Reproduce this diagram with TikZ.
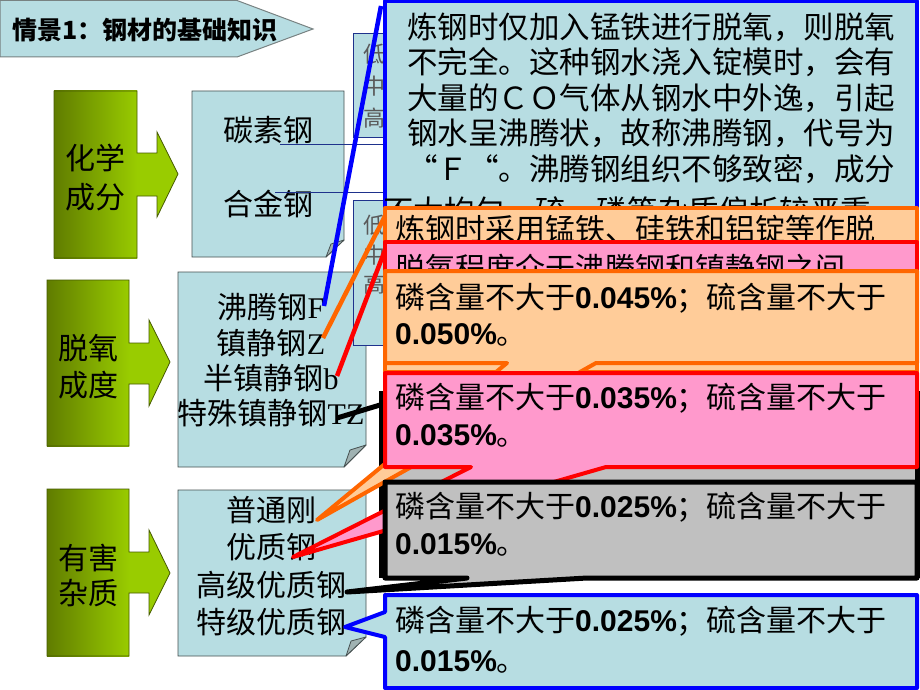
\documentclass[tikz,border=0pt]{standalone}
\usepackage{fontspec}
\setmainfont{Noto Sans CJK SC}
\newfontfamily\lser{Liberation Serif}
\newfontfamily\lsans{Liberation Sans}
\definecolor{lb}{RGB}{183,221,226}
\definecolor{peach}{RGB}{255,204,153}
\definecolor{pinkc}{RGB}{255,153,204}
\definecolor{grayc}{RGB}{192,192,192}
\definecolor{orangec}{RGB}{255,102,0}
\definecolor{olivedark}{RGB}{96,124,0}
\definecolor{limec}{RGB}{153,204,0}
\definecolor{olivebd}{RGB}{70,90,0}
\definecolor{boxline}{RGB}{70,80,80}
\definecolor{foldc}{RGB}{160,178,178}
\definecolor{navyc}{RGB}{30,50,140}
\definecolor{titlebd}{RGB}{120,130,130}
\newcommand{\nb}[1]{{\lsans\bfseries #1}}
\begin{document}
\begin{tikzpicture}[x=1pt,y=-1pt,
  ctxt/.style={inner sep=0pt, anchor=base west, font=\fontsize{30}{36}\selectfont},
  c1txt/.style={inner sep=0pt, anchor=base west, font=\fontsize{30.5}{36}\selectfont},
  btxt/.style={inner sep=0pt, anchor=base, font=\fontsize{30}{36}\selectfont},
  smtxt/.style={inner sep=0pt, anchor=base, text=black!65, font=\fontsize{22}{26}\selectfont},
  lbbox/.style={fill=lb, draw=boxline, line width=0.8pt},
  foldst/.style={fill=foldc, draw=boxline, line width=0.8pt, line join=round},
  greenbody/.style={left color=olivedark, right color=limec},
  greenbd/.style={draw=olivebd, line width=0.8pt},
  callout/.style={line width=4pt, line join=round},
  pointer/.style={line width=4.5pt, line cap=butt}
]
\useasboundingbox (0,0) rectangle (920,690);
\fill[white] (0,0) rectangle (920,690);

% title
\filldraw[fill=lb, draw=titlebd, line width=1pt] (0,0.5) -- (237,0.5) -- (313,29) -- (237,57) -- (0,57) -- cycle;
\node (title) [inner sep=0pt, anchor=base west, font=\fontsize{25}{30}\selectfont\bfseries] at (12,39.5) {情景1：钢材的基础知识};

% green arrows
\shade[greenbody] (54,91) rectangle (137,258);
\fill[limec] (137,153) -- (157,153) -- (157,132) -- (178,174) -- (157,217) -- (157,196) -- (137,196) -- cycle;
\draw[greenbd] (54,91) -- (137,91) -- (137,153) -- (157,153) -- (157,132) -- (178,174) -- (157,217) -- (157,196) -- (137,196) -- (137,258) -- (54,258) -- cycle;
\node (g1a) [btxt] at (95,169) {化学};
\node (g1b) [btxt] at (95,208) {成分};

\shade[greenbody] (47,280) rectangle (129,446);
\fill[limec] (129,343) -- (149,343) -- (149,320) -- (170,362) -- (149,406) -- (149,384) -- (129,384) -- cycle;
\draw[greenbd] (47,280) -- (129,280) -- (129,343) -- (149,343) -- (149,320) -- (170,362) -- (149,406) -- (149,384) -- (129,384) -- (129,446) -- (47,446) -- cycle;
\node (g2a) [btxt] at (88,359) {脱氧};
\node (g2b) [btxt] at (88,396) {成度};

\shade[greenbody] (47,489) rectangle (129,656);
\fill[limec] (129,552) -- (149,552) -- (149,530) -- (170,573) -- (149,615) -- (149,593) -- (129,593) -- cycle;
\draw[greenbd] (47,489) -- (129,489) -- (129,552) -- (149,552) -- (149,530) -- (170,573) -- (149,615) -- (149,593) -- (129,593) -- (129,656) -- (47,656) -- cycle;
\node (g3a) [btxt] at (88,569) {有害};
\node (g3b) [btxt] at (88,604) {杂质};

% light blue boxes with folded corner
\filldraw[lbbox] (192,91) -- (344,91) -- (344,240) -- (326,257) -- (192,257) -- cycle;
\filldraw[foldst] (326,257) -- (331,244) -- (344,240) -- cycle;
\node (tan) [btxt] at (268,142) {碳素钢};
\node (hej) [btxt] at (268,215) {合金钢};

\filldraw[lbbox] (178,272) -- (366,272) -- (366,445) -- (344,467) -- (178,467) -- cycle;
\filldraw[foldst] (344,467) -- (350,450) -- (366,445) -- cycle;
\node (ft) [btxt] at (271,318) {沸腾钢{\lser F}};
\node (zj) [btxt] at (271,354) {镇静钢{\lser Z}};
\node (bz) [btxt] at (271,389) {半镇静钢{\lser b}};
\node (tz) [btxt] at (271,424) {特殊镇静钢{\lser TZ}};

\filldraw[lbbox] (178,490) -- (366,490) -- (366,637) -- (346,656) -- (178,656) -- cycle;
\filldraw[foldst] (346,656) -- (351,641) -- (366,637) -- cycle;
\node (pt) [btxt] at (271,521) {普通刚};
\node (yz) [btxt] at (271,558) {优质钢};
\node (gj) [btxt] at (271,596) {高级优质钢};
\node (tj) [btxt] at (271,633) {特级优质钢};

% hidden small boxes
\filldraw[fill=lb, draw=navyc, line width=0.8pt] (353,33) rectangle (395,137);
\node (a1) [smtxt] at (374,63) {低};
\node (a2) [smtxt] at (374,95) {中};
\node (a3) [smtxt] at (374,126) {高};
\filldraw[fill=lb, draw=navyc, line width=0.8pt] (353,200) rectangle (395,345);
\node (b1) [smtxt] at (374,233) {低};
\node (b2) [smtxt] at (374,263) {中};
\node (b3) [smtxt] at (374,292) {高};
\draw[navyc, line width=0.9pt] (280,144) -- (390,144);
\draw[navyc, line width=0.9pt] (275,192) -- (390,192);

% tips
\coordinate (tipF) at (324,306);
\coordinate (tipZ) at (323,338);
\coordinate (tipB) at (337,376);
\coordinate (tipTZ) at (337,418);
\coordinate (tipPT) at (317,520);
\coordinate (tipYZ) at (293,557);
\coordinate (tipGJ) at (347,592);
\coordinate (tipTJ) at (345,627);

% C1 blue
\filldraw[callout, fill=lb, draw=blue] (385,1) rectangle (917,250);
\draw[pointer, blue] (381,6) -- (tipF);
\node (c1l1) [c1txt] at (407,38.5) {炼钢时仅加入锰铁进行脱氧，则脱氧};
\node (c1l2) [c1txt] at (407,73.5) {不完全。这种钢水浇入锭模时，会有};
\node (c1l3) [c1txt] at (407,109.5) {大量的ＣＯ气体从钢水中外逸，引起};
\node (c1l4) [c1txt] at (407,144.5) {钢水呈沸腾状，故称沸腾钢，代号为};
\node (c1l5) [c1txt] at (407,180.5) {“Ｆ“。沸腾钢组织不够致密，成分};
\begin{scope}
\clip (370,150) rectangle (920,207);
\node (c1l6) [c1txt] at (383,222) {不太均匀，硫、磷等杂质偏析较严重};
\end{scope}

% C2 orange
\filldraw[callout, fill=peach, draw=orangec] (385,208) rectangle (917,372);
\draw[pointer, orangec] (385,216) -- (tipZ);
\begin{scope}
\clip (385,208) rectangle (920,241);
\node (c2l1) [ctxt] at (395,240.5) {炼钢时采用锰铁、硅铁和铝锭等作脱};
\end{scope}

% C3 red
\filldraw[callout, fill=pinkc, draw=red] (385,242) rectangle (917,330);
\draw[pointer, red] (385,250) -- (tipB);
\begin{scope}
\clip (385,242) rectangle (920,270);
\node (c3l1) [ctxt] at (395,279) {脱氧程度介于沸腾钢和镇静钢之间};
\end{scope}

% C7 black (hidden)
\filldraw[line width=5pt, fill=grayc, draw=black] (381,393) rectangle (917,575);
\draw[line width=5pt, black] (380,405) -- (tipTZ);

% C4 orange
\filldraw[callout, fill=peach, draw=orangec] (385,271) -- (917,271) -- (917,363) -- (596,363) -- (tipPT) -- (507,363) -- (385,363) -- cycle;
\node (c4l1) [ctxt] at (395,308) {磷含量不大于\nb{0.045\%}；硫含量不大于};
\node (c4l2) [ctxt] at (395,344) {\nb{0.050\%}。};

% C5 red
\filldraw[callout, fill=pinkc, draw=red] (385,373) -- (917,373) -- (917,467) -- (606,467) -- (tipYZ) -- (471,467) -- (385,467) -- cycle;
\node (c5l1) [ctxt] at (395,408.5) {磷含量不大于\nb{0.035\%}；硫含量不大于};
\node (c5l2) [ctxt] at (395,445) {\nb{0.035\%}。};

% C6 black
\filldraw[line width=5pt, line join=round, fill=grayc, draw=black] (385,482) -- (917,482) -- (917,578) -- (587,578) -- (tipGJ) -- (467,578) -- (385,578) -- cycle;
\node (c6l1) [ctxt] at (395,517) {磷含量不大于\nb{0.025\%}；硫含量不大于};
\node (c6l2) [ctxt] at (395,554) {\nb{0.015\%}。};

% C8 blue
\filldraw[callout, fill=lb, draw=blue] (385,595) -- (917,595) -- (917,688) -- (385,688) -- (385,637) -- (tipTJ) -- (385,612) -- cycle;
\node (c8l1) [ctxt] at (395,631) {磷含量不大于\nb{0.025\%}；硫含量不大于};
\node (c8l2) [ctxt] at (395,671) {\nb{0.015\%}。};
\end{tikzpicture}
\end{document}
